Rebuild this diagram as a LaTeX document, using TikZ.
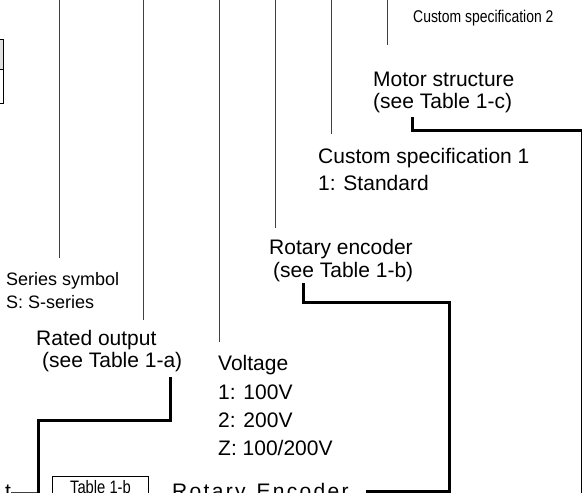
\documentclass[tikz,border=0pt]{standalone}
\usepackage{fontspec}
\setmainfont{Liberation Sans}
\newfontfamily\narrowfont[FakeStretch=0.82]{Liberation Sans}
\newfontfamily\spacedfont[LetterSpace=11]{Liberation Sans}
\usetikzlibrary{positioning}
\tikzset{
  lbl/.style={anchor=base west, inner sep=0pt, font=\fontsize{21}{25}\selectfont},
  small lbl/.style={lbl, font=\fontsize{18}{22}\selectfont},
  narrow lbl/.style={lbl, font=\narrowfont\fontsize{17}{20}\selectfont},
  lead/.style={line width=1pt, black!75},
  bracket/.style={line width=3pt, black},
}
\begin{document}
\begin{tikzpicture}[x=1pt, y=-1pt, line join=miter]
	\useasboundingbox (0,0) rectangle (582,493);
	\clip (0,0) rectangle (582,493);
	% part of the table on the left
	\fill[black!12] (-20,39) rectangle (3,69);
	\draw[line width=1pt] (-20,39) rectangle (3,103) (-20,69) -- (3,69);
	% labels
	\node[narrow lbl] (spec2) at (413,22) {Custom specification 2};
	\node[lbl] (motor) at (373,86) {Motor structure};
	\node[lbl] (motor-b) at ([yshift=-22pt]motor.base west) {(see Table 1-c)};
	\node[lbl] (spec1) at (318,163) {Custom specification 1};
	\node[lbl] (spec1-b) at ([yshift=-27pt]spec1.base west) {1: Standard};
	\node[lbl] (enc) at (269,254) {Rotary encoder};
	\node[lbl] (enc-b) at ([xshift=4pt,yshift=-23pt]enc.base west) {(see Table 1-b)};
	\node[small lbl] (series) at (6,285) {Series symbol};
	\node[small lbl] (series-b) at ([yshift=-23pt]series.base west) {S: S-series};
	\node[lbl] (rated) at (36,345) {Rated output};
	\node[lbl] (rated-b) at ([xshift=6pt,yshift=-22pt]rated.base west) {(see Table 1-a)};
	\node[lbl] (volt) at (218,370) {Voltage};
	\node[lbl] (volt-1) at ([yshift=-29pt]volt.base west) {1: 100V};
	\node[lbl] (volt-2) at ([yshift=-28pt]volt-1.base west) {2: 200V};
	\node[lbl] (volt-3) at ([yshift=-28pt]volt-2.base west) {Z: 100/200V};
	% bottom row
	\node[lbl] (tail) at (5,498) {t};
	\node[draw, line width=1pt, anchor=north west, minimum width=96pt, inner ysep=4pt, text depth=14pt,
		font=\narrowfont\fontsize{18}{22}\selectfont] (tab-b) at (52,476) {Table 1-b};
	\node[lbl, font=\spacedfont\fontsize{21}{25}\selectfont] (enc-head) at (172,498) {Rotary\hspace{11pt}Encoder};
	% thin leads from the code above
	\draw[lead] (59,0) -- (59,258);
	\draw[lead] (143,0) -- (143,320);
	\draw[lead] (219,0) -- (219,342);
	\draw[lead] (275,0) -- (275,228);
	\draw[lead] (331,0) -- (331,134);
	\draw[lead] (387,0) -- (387,45);
	\draw[lead] (tail.east |- 0,492) -- (38,492);
	% thick brackets to the tables
	\draw[bracket] (412,117) -- (412,130) -- (582,130) -- (582,500);
	\draw[bracket] (303,283) -- (303,302) -- (449,302) -- (449,491) -- (366,491);
	\draw[bracket] (170,377) -- (170,420) -- (38,420) -- (38,493.5);
\end{tikzpicture}
\end{document}
